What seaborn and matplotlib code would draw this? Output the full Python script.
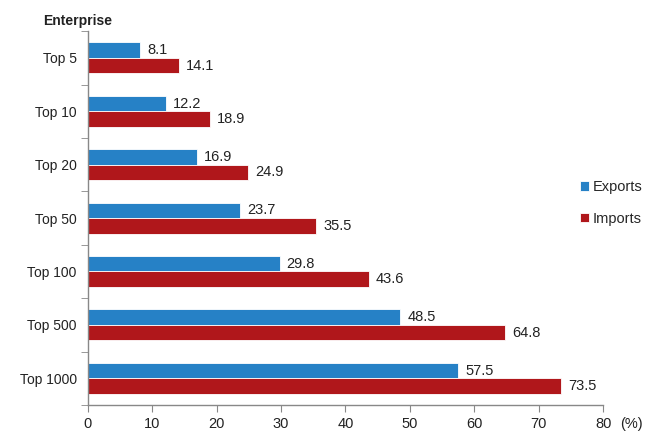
import numpy as np
import pandas as pd
import matplotlib.pyplot as plt
import seaborn as sns

categories = ['Top 5', 'Top 10', 'Top 20', 'Top 50', 'Top 100', 'Top 500', 'Top 1000']
exports = [8.1, 12.2, 16.9, 23.7, 29.8, 48.5, 57.5]
imports = [14.1, 18.9, 24.9, 35.5, 43.6, 64.8, 73.5]
x_ticks = [0, 10, 20, 30, 40, 50, 60, 70, 80]

df = pd.DataFrame({
    'Enterprise': categories * 2,
    'value': exports + imports,
    'series': ['Exports'] * len(categories) + ['Imports'] * len(categories),
})

sns.set_style('white')
plt.rcParams['font.family'] = ['Liberation Sans', 'DejaVu Sans']

fig = plt.figure(figsize=(6.5, 4.46), dpi=100)
ax = fig.add_axes([0.135, 0.092, 0.793, 0.838])

palette = {'Exports': '#2681C6', 'Imports': '#B0171B'}
sns.barplot(data=df, y='Enterprise', x='value', hue='series', palette=palette,
            order=categories, width=0.58, orient='h', edgecolor='white',
            linewidth=0.6, saturation=1, ax=ax)

for cont in ax.containers:
    ax.bar_label(cont, fmt='%.1f', padding=5, fontsize=10.5, color='#222222')

ax.set_xlim(0, 80)
ax.set_xticks(x_ticks)
ax.set_ylim(len(categories) - 0.5, -0.5)
ax.set_yticks(range(len(categories)))
ax.set_yticks(np.arange(-0.5, len(categories), 1), minor=True)
ax.tick_params(axis='y', which='major', length=0, labelsize=10, pad=8, colors='#222222')
ax.tick_params(axis='y', which='minor', length=5, color='#888888', direction='out', left=True)
ax.tick_params(axis='x', which='major', length=5, color='#888888', direction='out',
               bottom=True, labelsize=10.5, labelcolor='#222222', pad=4)
ax.set_xlabel('')
ax.set_ylabel('')

for side in ['top', 'right']:
    ax.spines[side].set_visible(False)
for side in ['left', 'bottom']:
    ax.spines[side].set_color('#888888')
    ax.spines[side].set_linewidth(1)

ax.legend(loc='center left', bbox_to_anchor=(0.872, 0.545), bbox_transform=fig.transFigure,
          frameon=False, fontsize=10.5, handlelength=0.6, handleheight=0.6,
          handletextpad=0.3, labelspacing=1.2)

fig.text(0.066, 0.952, 'Enterprise', fontsize=10, fontweight='bold', va='center', color='#222222')
fig.text(0.972, 0.05, '(%)', fontsize=10.5, va='center', ha='center', color='#222222')

plt.savefig('out.png', dpi=100)
plt.close()
